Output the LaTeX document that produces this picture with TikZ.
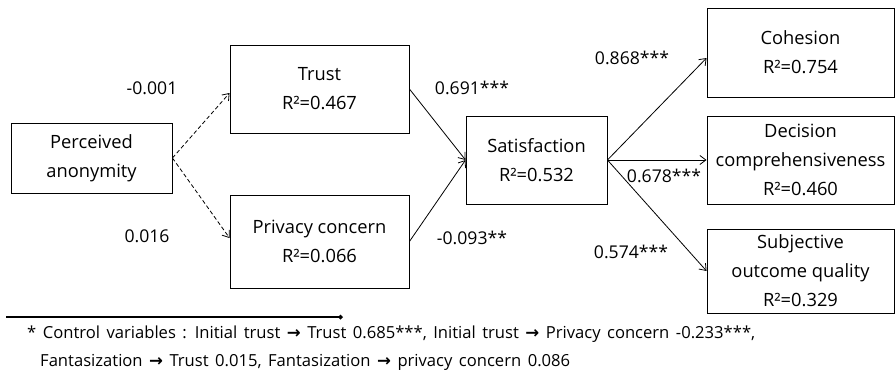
\documentclass[tikz,border=0pt]{standalone}
\usepackage{fontspec}
\setmainfont{Open Sans}
\newfontfamily\arrowfont{DejaVu Sans}
\usetikzlibrary{arrows.meta}
\newcommand{\rarr}{{\arrowfont\bfseries\char"2192}}
\newcommand{\notefont}{\fontsize{16.6}{20}\selectfont\spaceskip=6.5pt plus 1pt\relax}
\begin{document}
\begin{tikzpicture}[x=1pt,y=-1pt,
  box/.style={draw,line width=0.9pt,rectangle,align=center,inner sep=0pt,
    font=\fontsize{18.3}{29}\selectfont},
  coef/.style={font=\fontsize{17.6}{20}\selectfont,inner sep=0pt},
  path/.style={line width=0.8pt,-{Straight Barb[length=6pt,width=9pt]}},
  dashpath/.style={path,dash pattern=on 4pt off 2.5pt},
  note/.style={font=\notefont,inner sep=0pt,anchor=west}]
\useasboundingbox (0,0) rectangle (895,376);

% constructs
\node[box,minimum width=161pt,minimum height=70pt] (anon) at (91.5,158) {Perceived\\anonymity};
\node[box,minimum width=179pt,minimum height=88pt] (trust) at (319.5,89) {Trust\\R²=0.467};
\node[box,minimum width=179pt,minimum height=93pt] (privacy) at (319.5,241.5) {Privacy concern\\R²=0.066};
\node[box,minimum width=141pt,minimum height=88pt] (sat) at (536.5,160) {Satisfaction\\R²=0.532};
\node[box,minimum width=187pt,minimum height=89pt] (coh) at (800.5,52.5) {Cohesion\\R²=0.754};
\node[box,minimum width=187pt,minimum height=88pt] (dec) at (800.5,160) {Decision\\comprehensiveness\\R²=0.460};
\node[box,minimum width=187pt,minimum height=84pt] (subj) at (800.5,271) {Subjective\\outcome quality\\R²=0.329};

% structural paths
\draw[dashpath] (anon.east) -- ([yshift=-4pt]trust.west);
\draw[dashpath] (anon.east) -- ([yshift=3.5pt]privacy.west);
\draw[path] (trust.east) -- (sat.west);
\draw[path] (privacy.east) -- (sat.west);
\draw[path] (sat.east) -- ([yshift=-5.5pt]coh.west);
\draw[path] (sat.east) -- (dec.west);
\draw[path] (sat.east) -- (subj.west);

% path coefficients
\node[coef] (c1) at (152,88) {-0.001};
\node[coef] (c2) at (147,236) {0.016};
\node[coef] (c3) at (472,88) {0.691***};
\node[coef] (c4) at (472,238) {-0.093**};
\node[coef] (c5) at (632,58) {0.868***};
\node[coef] (c6) at (664,176) {0.678***};
\node[coef] (c7) at (631,252) {0.574***};

% separator rule and footnote
\coordinate (ruleL) at (6,317);
\coordinate (ruleR) at (343,317);
\draw[line width=1.1pt,-{Turned Square[length=5pt,width=5pt]}] (ruleL) -- (ruleR);
\node[note] (n1) at (27,334) {* Control variables : Initial trust \rarr\ Trust 0.685***, Initial trust \rarr\ Privacy concern -0.233***,};
\node[note] (n2) at (40,362) {Fantasization \rarr\ Trust 0.015, Fantasization \rarr\ privacy concern 0.086};
\end{tikzpicture}
\end{document}
